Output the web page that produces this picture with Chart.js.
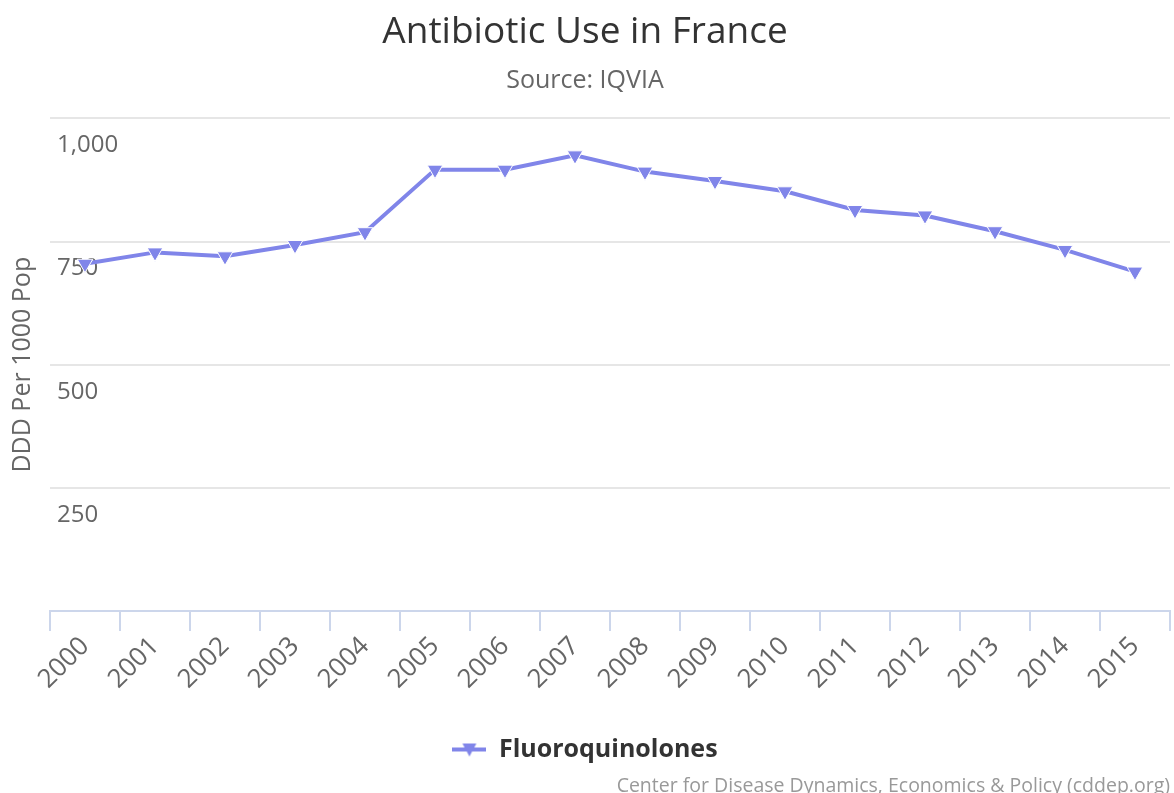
<!DOCTYPE html>
<html lang="en">
  <head>
    <meta charset="UTF-8" />
    <title>Antibiotic Use in France</title>
    <style>
      body {
        margin: 0;
        background-color: #ffffff;
      }
      .chart-wrap {
        position: relative;
        width: 1174px;
        height: 793px;
      }
      .credits {
        position: absolute;
        right: 4px;
        top: 772px;
        font-family: "Open Sans", sans-serif;
        font-size: 19.5px;
        line-height: 26px;
        color: #999999;
        white-space: nowrap;
      }
    </style>
    <script src="https://cdn.jsdelivr.net/npm/chart.js"></script>
  </head>
  <body>
    <div class="chart-wrap">
      <canvas id="abxChart" width="1174" height="793"></canvas>
      <div class="credits">Center for Disease Dynamics, Economics &amp; Policy (cddep.org)</div>
    </div>

    <script>
      // years on the x axis
      const years = ["2000", "2001", "2002", "2003", "2004", "2005", "2006", "2007",
                     "2008", "2009", "2010", "2011", "2012", "2013", "2014", "2015"];

      // DDD per 1000 pop
      const fluoroquinolones = [705, 728, 720, 743, 769, 896, 896, 925,
                                892, 873, 852, 814, 803, 771, 733, 689];

      const yTicks = [0, 250, 500, 750, 1000];

      const lineColor = '#8085e9';
      const fontFamily = '"Open Sans", sans-serif';

      // legend symbol: short line with a triangle marker
      // (drawn pointing up, the legend rotates it by the dataset's 180deg)
      function legendSymbol() {
        const c = document.createElement('canvas');
        c.width = 34;
        c.height = 18;
        const g = c.getContext('2d');
        g.strokeStyle = lineColor;
        g.lineWidth = 4;
        g.beginPath();
        g.moveTo(0, 9);
        g.lineTo(34, 9);
        g.stroke();
        g.fillStyle = lineColor;
        g.beginPath();
        g.moveTo(17, 2);
        g.lineTo(24, 15);
        g.lineTo(10, 15);
        g.closePath();
        g.fill();
        return c;
      }

      new Chart(document.getElementById('abxChart'), {
        type: 'line',
        data: {
          labels: years,
          datasets: [{
            label: 'Fluoroquinolones',
            data: fluoroquinolones,
            borderColor: lineColor,
            backgroundColor: lineColor,
            borderWidth: 4,
            pointStyle: 'triangle',
            pointRotation: 180,
            pointRadius: 9,
            pointHoverRadius: 9,
            pointBackgroundColor: lineColor,
            pointBorderColor: '#ffffff',
            pointBorderWidth: 1,
            tension: 0
          }]
        },
        options: {
          responsive: false,
          animation: false,
          layout: {
            autoPadding: false,
            padding: { left: 0, right: 4, top: 0, bottom: 21 }
          },
          plugins: {
            title: {
              display: true,
              text: 'Antibiotic Use in France',
              color: '#333333',
              font: { family: fontFamily, size: 37, weight: 'normal' },
              padding: { top: 10, bottom: 0 }
            },
            subtitle: {
              display: true,
              text: 'Source: IQVIA',
              color: '#666666',
              font: { family: fontFamily, size: 25 },
              padding: { top: 11, bottom: 23 }
            },
            legend: {
              position: 'bottom',
              labels: {
                usePointStyle: true,
                pointStyle: legendSymbol(),
                pointStyleWidth: 34,
                padding: 21,
                color: '#333333',
                font: { family: fontFamily, size: 25, weight: 'bold' }
              }
            },
            tooltip: { enabled: false }
          },
          scales: {
            x: {
              offset: true,
              grid: {
                offset: true,
                drawOnChartArea: false,
                drawTicks: true,
                tickLength: 20,
                color: '#ccd6eb',
                lineWidth: 2
              },
              border: { display: true, color: '#ccd6eb', width: 2 },
              ticks: {
                minRotation: 45,
                maxRotation: 45,
                padding: 0,
                color: '#666666',
                font: { family: fontFamily, size: 26 }
              },
              afterFit: (scale) => {
                scale.height = 105;
                // keep the plot running to the right edge like the original
                scale.paddingLeft = 0;
                scale.paddingRight = 0;
              }
            },
            y: {
              min: 0,
              max: 1000,
              afterBuildTicks: (scale) => {
                scale.ticks = yTicks.map(v => ({ value: v }));
              },
              grid: {
                drawTicks: false,
                color: '#e6e6e6',
                lineWidth: 2
              },
              border: { display: false },
              ticks: {
                mirror: true,
                padding: 7,
                labelOffset: 27,
                color: '#666666',
                font: { family: fontFamily, size: 24 },
                callback: (v) => v === 0 ? '' : v.toLocaleString('en-US')
              },
              title: {
                display: true,
                text: 'DDD Per 1000 Pop',
                color: '#666666',
                font: { family: fontFamily, size: 25 },
                padding: { top: 8, bottom: 0 }
              },
              afterFit: (scale) => {
                scale.width = 50;
                scale.paddingTop = 0;
                scale.paddingBottom = 0;
              }
            }
          }
        }
      });
    </script>
  </body>
</html>
